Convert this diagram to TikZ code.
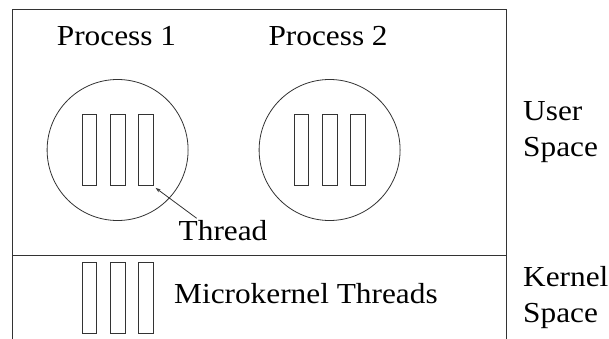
\documentclass[tikz,border=0pt]{standalone}
\usepackage{fontspec}
\setmainfont[FakeStretch=1.08]{Liberation Serif}
\usetikzlibrary{arrows.meta}
\begin{document}
\begin{tikzpicture}[x=1pt,y=-1pt,
  line/.style={draw=black!80, line width=0.8pt},
  thr/.style={line, rectangle, minimum width=14.5pt, minimum height=70.5pt, inner sep=0pt},
  proc/.style={line, circle, minimum size=141pt, inner sep=0pt},
  lbl/.style={font=\fontsize{29}{35}\selectfont, inner sep=0pt, anchor=base west},
]
\useasboundingbox (0,0) rectangle (609,339);
% outer frame and divider
\draw[line] (12.3,339) -- (12.3,9.3) -- (506.7,9.3) -- (506.7,339);
\draw[line] (12.3,255.8) -- (506.7,255.8);
% processes
\node[proc] (p1) at (117.6,150) {};
\node[proc] (p2) at (329.6,150) {};
\node[thr] (t11) at (89.5,150) {};
\node[thr] (t12) at (117.7,150) {};
\node[thr] (t13) at (146,150) {};
\node[thr] (t21) at (301.4,150) {};
\node[thr] (t22) at (329.7,150) {};
\node[thr] (t23) at (358,150) {};
% kernel threads
\node[thr] (k1) at (89.5,298) {};
\node[thr] (k2) at (117.7,298) {};
\node[thr] (k3) at (146,298) {};
% labels
\node[lbl] (lp1) at (56.7,45.7) {Process 1};
\node[lbl] (lp2) at (268.3,45.7) {Process 2};
\node[lbl] (lth) at (178.5,240.7) {Thread};
\node[lbl] (lmk) at (174,303.5) {Microkernel Threads};
\node[lbl] (lu1) at (523,121) {User};
\node[lbl] (lu2) at (523,157) {Space};
\node[lbl] (lk1) at (523,286) {Kernel};
\node[lbl] (lk2) at (523,322.5) {Space};
% arrow
\coordinate (atail) at (196.7,218.3);
\coordinate (ahead) at ([shift={(2,2.3)}]t13.south east);
\draw[line, -{Stealth[length=5pt,width=3.5pt]}] (atail) -- (ahead);
\end{tikzpicture}
\end{document}
